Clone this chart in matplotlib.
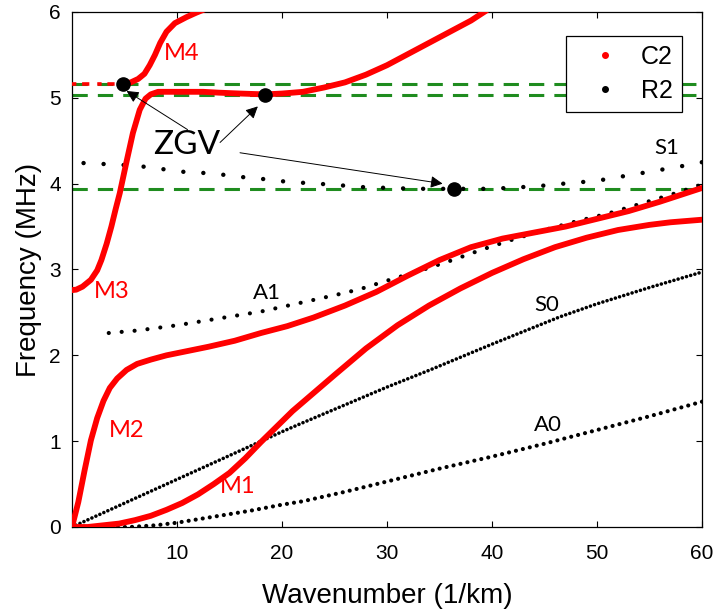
import matplotlib
matplotlib.use('Agg')
import matplotlib.pyplot as plt
from matplotlib.lines import Line2D

# C2 model branches (red), wavenumber in 1/km, frequency in MHz
m1_k = [0, 1.5, 3.0, 4.5, 6.0, 7.5, 9.0, 10.5, 12.0, 13.5, 15.0, 16.5, 18.0, 19.5, 21.0, 23.0,
        25.0, 28.0, 31.0, 34.0, 37.0, 40.0, 43.0, 46.0, 49.0, 52.0, 55.0, 57.0, 60.0]
m1_f = [0, 0.0, 0.02, 0.04, 0.08, 0.13, 0.20, 0.28, 0.38, 0.50, 0.63, 0.80, 0.99, 1.17, 1.35, 1.56,
        1.77, 2.08, 2.35, 2.58, 2.78, 2.96, 3.12, 3.26, 3.37, 3.46, 3.52, 3.55, 3.58]

m2_k = [0, 0.6, 1.2, 1.8, 2.4, 3.0, 3.6, 4.3, 5.2, 6.2, 7.5, 9.0, 11.0, 13.0, 15.5, 18.0, 20.5,
        23.0, 26.0, 29.0, 32.0, 35.0, 38.0, 41.0, 44.0, 47.0, 50.0, 53.0, 56.0, 58.0, 60.0]
m2_f = [0, 0.29, 0.66, 1.01, 1.27, 1.47, 1.62, 1.73, 1.83, 1.90, 1.95, 2.00, 2.05, 2.10, 2.17, 2.26, 2.34,
        2.44, 2.58, 2.74, 2.93, 3.11, 3.26, 3.36, 3.43, 3.50, 3.59, 3.68, 3.79, 3.87, 3.95]

m3_k = [0, 0.4, 1.0, 1.8, 2.4, 2.8, 3.3, 3.75, 4.15, 4.55, 5.2, 5.8, 6.45, 7.0, 7.5, 8.2, 9.5, 11.0, 12.5,
        14.0, 16.0, 18.4, 20.0, 22.0, 24.0, 26.0, 28.0, 30.0, 32.0, 34.0, 36.0, 38.0, 39.5]
m3_f = [2.76, 2.765, 2.80, 2.88, 2.99, 3.11, 3.30, 3.50, 3.70, 3.89, 4.26, 4.59, 4.86, 4.99, 5.04, 5.07, 5.07, 5.07, 5.07,
        5.06, 5.05, 5.04, 5.05, 5.07, 5.12, 5.18, 5.27, 5.38, 5.51, 5.64, 5.77, 5.90, 6.02]

m4_k = [4.86, 5.6, 6.3, 6.9, 7.4, 7.9, 8.4, 9.0, 9.8, 10.9, 11.8, 12.6]
m4_f = [5.165, 5.18, 5.22, 5.28, 5.38, 5.50, 5.64, 5.77, 5.87, 5.94, 5.99, 6.03]
m4_flat_k = [0, 4.5]
m4_flat_f = [5.165, 5.165]

# R2 reference branches (black dots)
s0_k = [0, 10, 20, 21.7, 30, 34.1, 40, 46.5, 50, 55, 60]
s0_f = [0, 0.555, 1.11, 1.20, 1.63, 1.83, 2.13, 2.45, 2.60, 2.79, 2.97]

a0_k = [3, 5.5, 8, 10, 12, 14, 17, 20, 22, 26, 30, 35, 40, 45, 50, 55, 60]
a0_f = [0, 0.0, 0.02, 0.05, 0.09, 0.13, 0.19, 0.26, 0.30, 0.41, 0.53, 0.68, 0.82, 0.97, 1.13, 1.29, 1.46]

a1_k = [3.5, 6.3, 10, 14, 18, 21.7, 25, 27.4, 30, 33, 36, 39, 42, 45, 48, 51, 54, 57, 60]
a1_f = [2.26, 2.29, 2.35, 2.43, 2.51, 2.61, 2.70, 2.77, 2.87, 2.98, 3.10, 3.23, 3.35, 3.46, 3.56, 3.65, 3.76, 3.87, 3.99]

s1_k = [1.1, 4.6, 6.7, 8.6, 10.3, 12, 14, 15.9, 17.8, 19.8, 22, 24.6, 27.7, 32.7, 36.4, 40, 44.3,
        46.8, 48.7, 50.3, 52.2, 54.1, 56, 57.9, 60]
s1_f = [4.24, 4.22, 4.20, 4.17, 4.14, 4.13, 4.11, 4.08, 4.06, 4.03, 4.01, 3.99, 3.96, 3.94, 3.94, 3.94, 3.97,
        4.00, 4.02, 4.04, 4.08, 4.12, 4.16, 4.20, 4.25]

# zero-group-velocity points
zgv_k = [4.86, 18.4, 36.4]
zgv_f = [5.165, 5.035, 3.94]

mode_labels = ['M1', 'M2', 'M3', 'M4']
mode_pos = [(15.8, 0.47), (5.2, 1.13), (3.8, 2.74), (10.4, 5.52)]
ref_labels = ['A0', 'S0', 'A1', 'S1']
ref_pos = [(45.3, 1.19), (45.2, 2.59), (18.6, 2.73), (56.6, 4.42)]

plt.rcParams['font.family'] = ['Liberation Sans', 'DejaVu Sans']
label_font = ['Lato', 'DejaVu Sans']

fig = plt.figure(figsize=(7.2, 6.15), dpi=100)
ax = fig.add_axes([0.1, 0.1431, 0.875, 0.8374])

green = '#1f8c1f'
for f in zgv_f:
    ax.axhline(f, color=green, lw=2.2, linestyle=(0, (5, 3.3)), zorder=1)


def dotted(k, f, lw, gap):
    ax.plot(k, f, color='black', lw=lw, linestyle=(0, (0.01, gap)),
            dash_capstyle='round', zorder=2)


dotted(s0_k, s0_f, 2.6, 1.2)
dotted(a0_k, a0_f, 3.0, 1.7)
dotted(a1_k, a1_f, 3.0, 3.1)
dotted(s1_k, s1_f, 3.2, 4.5)

red = '#ff0000'
for k, f in [(m1_k, m1_f), (m2_k, m2_f), (m3_k, m3_f), (m4_k, m4_f)]:
    ax.plot(k, f, color=red, lw=4.2, solid_capstyle='round', zorder=3)
ax.plot(m4_flat_k, m4_flat_f, color=red, lw=2.6, linestyle=(0, (1.2, 1.6, 2.0, 2.2)), zorder=3)

ax.plot(zgv_k, zgv_f, 'o', color='black', markersize=9.5, zorder=5)

for txt, (x, y) in zip(mode_labels, mode_pos):
    ax.text(x, y, txt, color=red, fontsize=17, ha='center', va='center', family=label_font)
for txt, (x, y) in zip(ref_labels, ref_pos):
    ax.text(x, y, txt, color='black', fontsize=16, ha='center', va='center', family=label_font)

ax.text(10.9, 4.45, 'ZGV', fontsize=24, ha='center', va='center', family=label_font)
arrow_tails = [(11.0, 4.63), (14.1, 4.48), (16.0, 4.36)]
arrow_tips = [(5.2, 5.08), (17.7, 4.90), (35.3, 4.00)]
for tail, tip in zip(arrow_tails, arrow_tips):
    ax.annotate('', xy=tip, xytext=tail,
                arrowprops=dict(arrowstyle='-|>', color='black', lw=0.7,
                                mutation_scale=18, shrinkA=0, shrinkB=0), zorder=4)

ax.set_xlim(0, 60)
ax.set_ylim(0, 6)
ax.set_xticks([10, 20, 30, 40, 50, 60])
ax.set_yticks([0, 1, 2, 3, 4, 5, 6])
ax.tick_params(direction='in', top=True, right=True, length=4, width=0.8, labelsize=15)
ax.tick_params(axis='x', pad=12)
ax.tick_params(axis='y', pad=8)
for s in ax.spines.values():
    s.set_linewidth(0.9)
ax.set_xlabel('Wavenumber (1/km)', fontsize=20, labelpad=15)
ax.set_ylabel('Frequency (MHz)', fontsize=20, labelpad=5)

handles = [Line2D([], [], color=red, marker='.', ls='none', markersize=8, label='C2'),
           Line2D([], [], color='black', marker='.', ls='none', markersize=8, label='R2')]
leg = ax.legend(handles=handles, loc='upper right', bbox_to_anchor=(0.968, 0.953),
                borderaxespad=0, fontsize=18, frameon=True, fancybox=False, framealpha=1,
                edgecolor='black', handlelength=2.4, handletextpad=0.25,
                borderpad=0.35, labelspacing=0.4)
leg.get_frame().set_linewidth(0.9)

fig.savefig('out.png', dpi=100)
